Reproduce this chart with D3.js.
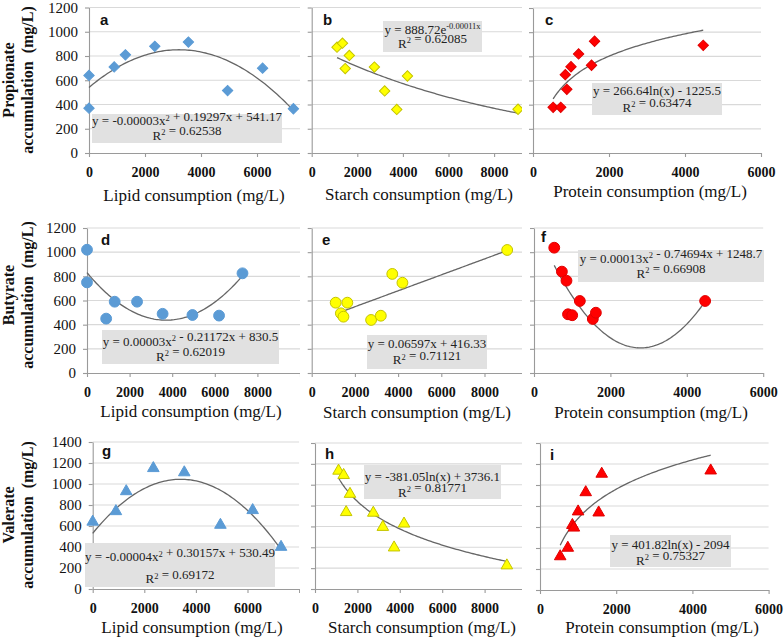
<!DOCTYPE html>
<html>
<head>
<meta charset="utf-8">
<script src="https://cdn.jsdelivr.net/npm/d3@7"></script>
<style>
  body { margin: 0; background: #fff; }
  svg { display: block; }
</style>
</head>
<body>
<div id="chart"></div>
<script>
// x values (consumption, mg/L) shared by each column
var lipidX   = [0, 0, 900, 1300, 2350, 3550, 4950, 6200, 7300];
var starchX  = [1110, 1350, 1470, 1650, 2750, 3200, 3730, 4200, 9050];
var proteinX = [530, 730, 850, 890, 1000, 1200, 1540, 1620, 4480];

// accumulation values (mg/L), one array per panel
var propionateLipid   = [370, 640, 710, 810, 880, 915, 515, 700, 365];
var propionateStarch  = [873, 906, 696, 805, 709, 512, 359, 635, 361];
var propionateProtein = [378, 378, 648, 527, 714, 820, 726, 925, 891];
var butyrateLipid     = [1020, 750, 450, 590, 590, 490, 480, 475, 825];
var butyrateStarch    = [582, 494, 466, 582, 439, 474, 820, 747, 1018];
var butyrateProtein   = [1037, 839, 764, 486, 478, 596, 447, 499, 596];
var valerateLipid     = [640, 360, 740, 930, 1150, 1110, 610, 750, 400];
var valerateStarch    = [1133, 1092, 736, 911, 730, 594, 397, 626, 225];
var valerateProtein   = [320, 401, 618, 593, 747, 930, 737, 1106, 1137];

// trendline coefficients
var propLipidFit   = [-0.00003, 0.19297, 541.17];   // poly
var propStarchFit  = [888.72, -0.00011];            // exp
var propProteinFit = [266.64, -1225.5];             // log
var butLipidFit    = [0.0000285, -0.21172, 830.5];  // poly
var butStarchFit   = [0.06597, 416.33];             // linear
var butProteinFit  = [0.000134, -0.74694, 1248.7];  // poly
var valLipidFit    = [-0.0000442, 0.30157, 530.49]; // poly
var valStarchFit   = [-381.05, 3736.1];             // log
var valProteinFit  = [401.82, -2094];               // log

// equation labels
var eqA = ["y = -0.00003x^{2} + 0.19297x + 541.17", "R^{2} = 0.62538"];
var eqB = ["y = 888.72e^{-0.00011x}", "R^{2} = 0.62085"];
var eqC = ["y = 266.64ln(x) - 1225.5", "R^{2} = 0.63474"];
var eqD = ["y = 0.00003x^{2} - 0.21172x + 830.5", "R^{2} = 0.62019"];
var eqE = ["y = 0.06597x + 416.33", "R^{2} = 0.71121"];
var eqF = ["y = 0.00013x^{2} - 0.74694x + 1248.7", "R^{2} = 0.66908"];
var eqG = ["y = -0.00004x^{2} + 0.30157x + 530.49", "R^{2} = 0.69172"];
var eqH = ["y = -381.05ln(x) + 3736.1", "R^{2} = 0.81771"];
var eqI = ["y = 401.82ln(x) - 2094", "R^{2} = 0.75327"];

var xTitles = ["Lipid consumption (mg/L)", "Starch consumption (mg/L)", "Protein consumption (mg/L)"];
var yTitles = ["Propionate", "Butyrate", "Valerate"];

var blue = "#5b9bd5", yellow = "#ffff00", red = "#ff0000";
var serif = "'Liberation Serif', 'Times New Roman', serif";

var models = {
  poly: function (c) { return function (x) { return c[0] * x * x + c[1] * x + c[2]; }; },
  lin:  function (c) { return function (x) { return c[0] * x + c[1]; }; },
  exp:  function (c) { return function (x) { return c[0] * Math.exp(c[1] * x); }; },
  log:  function (c) { return function (x) { return c[0] * Math.log(x) + c[1]; }; }
};

// layout of the nine panels
var panels = [
  {k: "a", xs: lipidX, ys: propionateLipid, fit: propLipidFit, model: "poly", eq: eqA, shape: "diamond", fill: blue, stroke: blue,
   x0: 89, ppu: 0.028, xMax: 8000, lastLabel: 6000, yB: 153, yT: 7.5, yMax: 1200, clip: [0, 0, 300, 208],
   letter: [100, 25], box: [92, 114, 190, 29], eqY: [125, 139.5], title: [194, 201], col: 0, row: 0},
  {k: "b", xs: starchX, ys: propionateStarch, fit: propStarchFit, model: "exp", eq: eqB, shape: "diamond", fill: yellow, stroke: "#c4c400",
   x0: 311.7, ppu: 0.0228, xMax: 10000, lastLabel: 8000, yB: 153, yT: 7.5, yMax: 1200, clip: [302, 0, 220, 208],
   letter: [323, 25], box: [383, 21, 99, 31], eqY: [33.5, 47.5], title: [419, 200], col: 1, row: 0},
  {k: "c", xs: proteinX, ys: propionateProtein, fit: propProteinFit, model: "log", eq: eqC, shape: "diamond", fill: red, stroke: "#e00000",
   x0: 533, ppu: 0.038, xMax: 6000, lastLabel: 6000, yB: 153, yT: 8, yMax: 1200, clip: [524, 0, 260, 208],
   letter: [545, 25], box: [592, 83, 130, 32], eqY: [95, 111.5], title: [650, 197], col: 2, row: 0},
  {k: "d", xs: lipidX, ys: butyrateLipid, fit: butLipidFit, model: "poly", eq: eqD, shape: "circle", fill: blue, stroke: blue,
   x0: 87, ppu: 0.0213, xMax: 10000, lastLabel: 8000, yB: 373, yT: 228, yMax: 1200, clip: [0, 208, 300, 214],
   letter: [101, 245], box: [102, 330, 177, 34], eqY: [345.5, 360.5], title: [191, 416.5], col: 0, row: 1},
  {k: "e", xs: starchX, ys: butyrateStarch, fit: butStarchFit, model: "lin", eq: eqE, shape: "circle", fill: yellow, stroke: "#c4c400",
   x0: 311.7, ppu: 0.0216, xMax: 10000, lastLabel: 8000, yB: 373, yT: 228, yMax: 1200, clip: [302, 208, 220, 214],
   letter: [322, 245], box: [367, 335, 120, 34], eqY: [347.5, 364], title: [417, 418], col: 1, row: 1},
  {k: "f", xs: proteinX, ys: butyrateProtein, fit: butProteinFit, model: "poly", eq: eqF, shape: "circle", fill: red, stroke: "#e00000",
   x0: 534, ppu: 0.0382, xMax: 6000, lastLabel: 6000, yB: 373, yT: 228, yMax: 1200, clip: [524, 208, 260, 214],
   letter: [541, 242], box: [578, 250, 186, 32], eqY: [262.5, 277.5], title: [651, 418], col: 2, row: 1},
  {k: "g", xs: lipidX, ys: valerateLipid, fit: valLipidFit, model: "poly", eq: eqG, shape: "triangle", fill: blue, stroke: blue,
   x0: 92.7, ppu: 0.0258, xMax: 8000, lastLabel: 6000, yB: 589, yT: 442, yMax: 1400, clip: [0, 422, 300, 217],
   letter: [102, 456], box: [85, 543, 190, 44], eqY: [561, 583], title: [192, 633], col: 0, row: 2},
  {k: "h", xs: starchX, ys: valerateStarch, fit: valStarchFit, model: "log", eq: eqH, shape: "triangle", fill: yellow, stroke: "#c4c400",
   x0: 315, ppu: 0.0212, xMax: 10000, lastLabel: 8000, yB: 589, yT: 443, yMax: 1400, clip: [302, 422, 220, 217],
   letter: [325, 459], box: [364, 465, 137, 34], eqY: [480.5, 496.5], title: [422, 633], col: 1, row: 2},
  {k: "i", xs: proteinX, ys: valerateProtein, fit: valProteinFit, model: "log", eq: eqI, shape: "triangle", fill: red, stroke: "#e00000",
   x0: 540, ppu: 0.0381, xMax: 6000, lastLabel: 6000, yB: 590, yT: 443, yMax: 1400, clip: [524, 422, 260, 217],
   letter: [550, 460], box: [610, 535, 121, 32], eqY: [548.5, 564.5], title: [662, 633], col: 2, row: 2}
];

var svg = d3.select("#chart").append("svg")
  .attr("width", 784)
  .attr("height", 639);

var defs = svg.append("defs");

// writes "R^{2} = ..." style strings with superscripts
function writeEq(textSel, str) {
  var parts = str.split(/\^\{([^}]*)\}/);
  parts.forEach(function (p, i) {
    if (p === "") return;
    if (i % 2 === 1) {
      textSel.append("tspan").attr("font-size", 8.5).attr("dy", -4.5).text(p);
      textSel.append("tspan").attr("font-size", 13).attr("dy", 4.5).text("");
    } else {
      textSel.append("tspan").text(p);
    }
  });
}

var symbols = {
  diamond: d3.symbol().type(d3.symbolSquare).size(54),
  circle: d3.symbol().type(d3.symbolCircle).size(92),
  triangle: d3.symbol().type(d3.symbolTriangle).size(58)
};

panels.forEach(function (p) {
  defs.append("clipPath").attr("id", "clip-" + p.k)
    .append("rect")
    .attr("x", p.clip[0]).attr("y", p.clip[1])
    .attr("width", p.clip[2]).attr("height", p.clip[3]);

  var g = svg.append("g").attr("clip-path", "url(#clip-" + p.k + ")");

  var x = d3.scaleLinear().domain([0, p.xMax]).range([p.x0, p.x0 + p.ppu * p.xMax]);
  var y = d3.scaleLinear().domain([0, p.yMax]).range([p.yB, p.yT]);
  var yTicks = d3.range(0, p.yMax + 1, 200);

  // gridlines
  g.append("g")
    .selectAll("line")
    .data(yTicks.slice(1))
    .enter()
    .append("line")
    .attr("x1", x(0)).attr("x2", x(p.xMax))
    .attr("y1", d => y(d)).attr("y2", d => y(d))
    .attr("stroke", "#d9d9d9")
    .attr("stroke-width", 1.1);

  // y axis
  var leftAxis = d3.axisLeft(y).tickValues(yTicks).tickSize(4).tickSizeOuter(0).tickPadding(7)
    .tickFormat(p.col > 0 ? "" : d3.format("d"));
  var yAxis = g.append("g")
    .attr("transform", `translate(${x(0)},0)`)
    .call(leftAxis);
  yAxis.attr("font-family", serif);
  yAxis.selectAll("text").attr("font-family", serif).attr("font-size", 15).attr("fill", "#111");

  // x axis
  var bottomAxis = d3.axisBottom(x).tickValues(d3.range(0, p.xMax + 1, 2000))
    .tickSize(4).tickSizeOuter(0).tickPadding(10)
    .tickFormat(d => d <= p.lastLabel ? d3.format("d")(d) : "");
  var xAxis = g.append("g")
    .attr("transform", `translate(0,${p.yB})`)
    .call(bottomAxis);
  xAxis.attr("font-family", serif);
  xAxis.selectAll("text").attr("font-family", serif).attr("font-size", 14)
    .attr("font-weight", "bold").attr("fill", "#111");

  [yAxis, xAxis].forEach(function (a) {
    a.selectAll("path, line").attr("stroke", "#9a9a9a").attr("stroke-width", 1.1);
  });

  // trendline
  var f = models[p.model](p.fit);
  var xmin = d3.min(p.xs), xmax = d3.max(p.xs);
  var pts = d3.range(0, 101).map(i => xmin + (xmax - xmin) * i / 100);
  g.append("path")
    .datum(pts)
    .attr("fill", "none")
    .attr("stroke", "#666")
    .attr("stroke-width", 1.3)
    .attr("d", d3.line().x(d => x(d)).y(d => y(f(d))));

  // markers
  g.append("g")
    .selectAll("path")
    .data(p.xs.map((v, i) => [v, p.ys[i]]))
    .enter()
    .append("path")
    .attr("d", symbols[p.shape])
    .attr("transform", d => `translate(${x(d[0])},${y(d[1])})` + (p.shape === "diamond" ? " rotate(45)" : ""))
    .attr("fill", p.fill)
    .attr("stroke", p.stroke)
    .attr("stroke-width", 1);

  // equation box
  g.append("rect")
    .attr("x", p.box[0]).attr("y", p.box[1])
    .attr("width", p.box[2]).attr("height", p.box[3])
    .attr("fill", "#e1e1e1");

  p.eq.forEach(function (line, i) {
    var t = g.append("text")
      .attr("x", p.box[0] + p.box[2] / 2)
      .attr("y", p.eqY[i])
      .attr("text-anchor", "middle")
      .attr("font-family", serif)
      .attr("font-size", 13)
      .attr("fill", "#222");
    writeEq(t, line);
  });

  // panel letter
  g.append("text")
    .attr("x", p.letter[0]).attr("y", p.letter[1])
    .attr("font-family", "'Liberation Sans', Arial, sans-serif")
    .attr("font-weight", "bold")
    .attr("font-size", 15)
    .attr("fill", "#111")
    .text(p.k);

  // x axis title
  g.append("text")
    .attr("x", p.title[0]).attr("y", p.title[1])
    .attr("text-anchor", "middle")
    .attr("font-family", serif)
    .attr("font-size", 17)
    .attr("fill", "#111")
    .text(xTitles[p.col]);

  // y axis title (left column only)
  if (p.col === 0) {
    var cy = [80, 295, 515][p.row];
    g.append("text")
      .attr("transform", `translate(14,${cy}) rotate(-90)`)
      .attr("text-anchor", "middle")
      .attr("font-family", serif)
      .attr("font-weight", "bold")
      .attr("font-size", 16)
      .attr("fill", "#111")
      .text(yTitles[p.row]);
    g.append("text")
      .attr("transform", `translate(33,${cy}) rotate(-90)`)
      .attr("text-anchor", "middle")
      .attr("font-family", serif)
      .attr("font-weight", "bold")
      .attr("font-size", 16)
      .attr("fill", "#111")
      .style("white-space", "pre")
      .text("accumulation  (mg/L)");
  }
});
</script>
</body>
</html>
